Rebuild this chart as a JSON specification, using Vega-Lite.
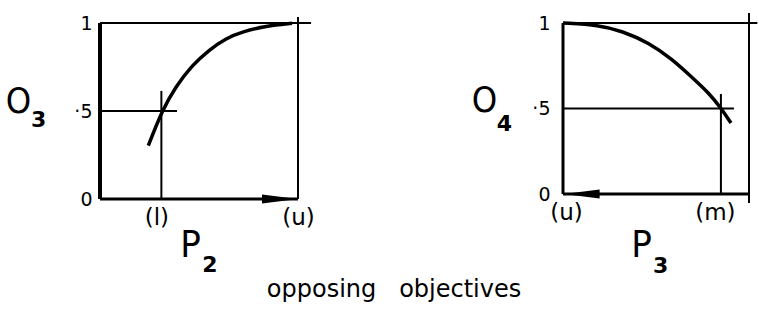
{
  "$schema": "https://vega.github.io/schema/vega-lite/v6.json",
  "background": "white",
  "padding": {"left": 5, "top": 12, "right": 0, "bottom": 0},
  "autosize": {"type": "pad"},
  "bounds": "flush",
  "spacing": 265,
  "config": {
    "view": {"stroke": null},
    "axis": {"grid": false, "ticks": false, "domain": false, "labelFont": "DejaVu Sans", "titleFont": "DejaVu Sans Condensed", "labelColor": "black", "titleColor": "black", "labelFlush": false, "labelOverlap": false, "titleFontWeight": "normal"}
  },
  "datasets": {
    "c3": [{"x":0.244,"y":0.303},{"x":0.315,"y":0.506},{"x":0.382,"y":0.638},{"x":0.466,"y":0.761},{"x":0.551,"y":0.847},{"x":0.635,"y":0.913},{"x":0.719,"y":0.95},{"x":0.837,"y":0.983},{"x":0.97,"y":0.998}],
    "c4": [{"x":0,"y":1.0},{"x":0.194,"y":0.988},{"x":0.317,"y":0.953},{"x":0.462,"y":0.885},{"x":0.586,"y":0.789},{"x":0.694,"y":0.682},{"x":0.785,"y":0.59},{"x":0.849,"y":0.503},{"x":0.903,"y":0.415}],
    "thin3": [{"x":0,"x2":1.066,"y":1,"y2":1},{"x":1,"x2":1,"y":0,"y2":1.034},{"x":0,"x2":0.389,"y":0.5,"y2":0.5},{"x":0.31,"x2":0.31,"y":0,"y2":0.614}],
    "thickL3": [{"x":0,"x2":0,"y":0,"y2":1}],
    "thickB3": [{"x":0,"x2":1,"y":0,"y2":0}],
    "arrow3": [{"x":0.909,"y":0}],
    "sub3": [{"x":-0.31,"y":0.45,"t":"3"},{"x":0.555,"y":-0.375,"t":"2"}],
    "thin4": [{"x":0,"x2":1.045,"y":1,"y2":1},{"x":1,"x2":1,"y":-0.053,"y2":1.058},{"x":0,"x2":0.919,"y":0.5,"y2":0.5},{"x":0.849,"x2":0.849,"y":0,"y2":0.585}],
    "thick4": [{"x":0,"x2":0,"y":0,"y2":1},{"x":0,"x2":1,"y":0,"y2":0}],
    "arrow4": [{"x":0.1,"y":0}],
    "sub4": [{"x":-0.315,"y":0.41,"t":"4"},{"x":0.525,"y":-0.42,"t":"3"}],
    "caption": [{"x":1.485,"y":-0.557,"t":"opposing\u00a0\u00a0\u00a0objectives"}]
  },
  "hconcat": [
    {
      "width": 198,
      "height": 176,
      "encoding": {
        "x": {"field": "x", "type": "quantitative", "scale": {"domain": [0, 1], "nice": false, "zero": false},
          "axis": {"values": [0.31, 1], "labelExpr": "datum.value < 0.5 ? '(l)' : '(u)'", "labelFontSize": 23, "labelPadding": 7, "labelOffset": {"condition": {"test": "datum.value < 0.5", "value": -5}, "value": 0}, "title": "P", "titleFontSize": 38, "titleX": 90, "titleY": 27, "titleAlign": "center", "titleBaseline": "top"}},
        "y": {"field": "y", "type": "quantitative", "scale": {"domain": [0, 1], "nice": false, "zero": false},
          "axis": {"values": [0, 0.5, 1], "labelExpr": "datum.value == 0 ? '0' : (datum.value == 1 ? '1' : '·5')", "labelFontSize": 19, "labelPadding": 8, "title": "O", "titleAngle": 0, "titleFontSize": 36, "titleX": -82, "titleY": 78, "titleAlign": "center", "titleBaseline": "middle"}}
      },
      "layer": [
        {"data": {"name": "c3"}, "mark": {"type": "line", "interpolate": "basis", "color": "black", "strokeWidth": 3.5, "clip": false}},
        {"data": {"name": "thin3"}, "mark": {"type": "rule", "color": "black", "strokeWidth": 2, "clip": false},
          "encoding": {"x2": {"field": "x2"}, "y2": {"field": "y2"}}},
        {"data": {"name": "thickL3"}, "mark": {"type": "rule", "color": "black", "strokeWidth": 4, "clip": false},
          "encoding": {"x2": {"field": "x2"}, "y2": {"field": "y2"}}},
        {"data": {"name": "thickB3"}, "mark": {"type": "rule", "color": "black", "strokeWidth": 3, "clip": false},
          "encoding": {"x2": {"field": "x2"}, "y2": {"field": "y2"}}},
        {"data": {"name": "arrow3"}, "mark": {"type": "point", "shape": "M-1,-0.25L1,0L-1,0.25Z", "size": 1296, "filled": true, "color": "black", "opacity": 1, "clip": false}},
        {"data": {"name": "sub3"}, "mark": {"type": "text", "font": "DejaVu Sans", "fontSize": 22, "fontWeight": "bold", "align": "center", "baseline": "middle", "color": "black", "clip": false},
          "encoding": {"text": {"field": "t"}}},
        {"data": {"name": "caption"}, "mark": {"type": "text", "font": "DejaVu Sans", "fontSize": 24, "align": "center", "baseline": "alphabetic", "color": "black", "clip": false},
          "encoding": {"text": {"field": "t"}}}
      ]
    },
    {
      "width": 186,
      "height": 171,
      "encoding": {
        "x": {"field": "x", "type": "quantitative", "scale": {"domain": [0, 1], "nice": false, "zero": false},
          "axis": {"values": [0, 0.849], "labelExpr": "datum.value < 0.5 ? '(u)' : '(m)'", "labelFontSize": 23, "labelPadding": 7, "labelOffset": {"condition": {"test": "datum.value > 0.5", "value": -6}, "value": 3}, "title": "P", "titleFontSize": 38, "titleX": 78, "titleY": 32, "titleAlign": "center", "titleBaseline": "top"}},
        "y": {"field": "y", "type": "quantitative", "scale": {"domain": [0, 1], "nice": false, "zero": false},
          "axis": {"values": [0, 0.5, 1], "labelExpr": "datum.value == 0 ? '0' : (datum.value == 1 ? '1' : '·5')", "labelFontSize": 19, "labelPadding": 13, "title": "O", "titleAngle": 0, "titleFontSize": 36, "titleX": -79, "titleY": 77, "titleAlign": "center", "titleBaseline": "middle"}}
      },
      "layer": [
        {"data": {"name": "c4"}, "mark": {"type": "line", "interpolate": "basis", "color": "black", "strokeWidth": 3.5, "clip": false}},
        {"data": {"name": "thin4"}, "mark": {"type": "rule", "color": "black", "strokeWidth": 2, "clip": false},
          "encoding": {"x2": {"field": "x2"}, "y2": {"field": "y2"}}},
        {"data": {"name": "thick4"}, "mark": {"type": "rule", "color": "black", "strokeWidth": 3, "clip": false},
          "encoding": {"x2": {"field": "x2"}, "y2": {"field": "y2"}}},
        {"data": {"name": "arrow4"}, "mark": {"type": "point", "shape": "M1,-0.25L-1,0L1,0.25Z", "size": 1296, "filled": true, "color": "black", "opacity": 1, "clip": false}},
        {"data": {"name": "sub4"}, "mark": {"type": "text", "font": "DejaVu Sans", "fontSize": 22, "fontWeight": "bold", "align": "center", "baseline": "middle", "color": "black", "clip": false},
          "encoding": {"text": {"field": "t"}}}
      ]
    }
  ]
}
